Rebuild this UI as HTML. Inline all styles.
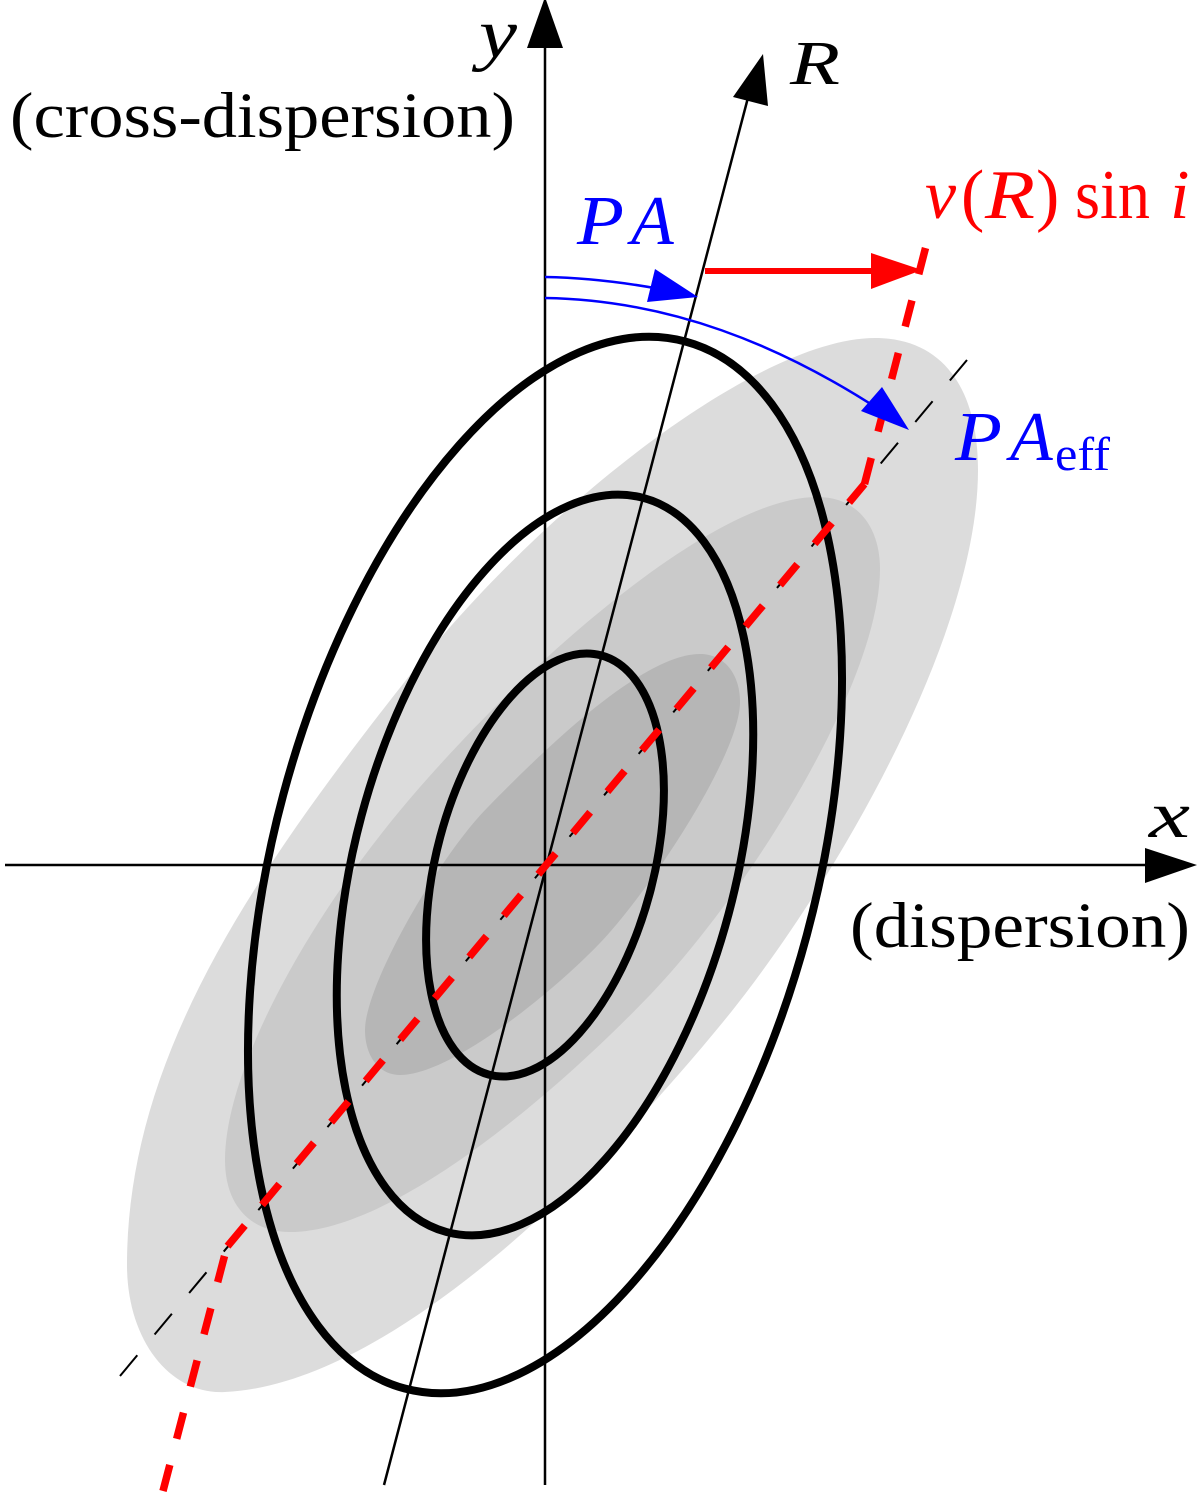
<!DOCTYPE html>
<html>
<head>
<meta charset="utf-8">
<style>
html,body{margin:0;padding:0;background:#fff;}
svg{display:block;}
text{font-family:"Liberation Serif",serif;}
.i{font-style:italic;}
</style>
</head>
<body>
<svg width="1200" height="1495" viewBox="0 0 1200 1495" xmlns="http://www.w3.org/2000/svg">
<path fill="#dcdcdc" d="M875 338C940 338 978 385 978 470C978 640 830 891 723 1022C578 1199 380 1385 225 1392C170 1395 127 1340 127 1265C127 1060 249 879 410 675C546 503 760 338 875 338Z"/>
<path fill="#cacaca" d="M817 497C860 497 880 530 880 569C880 680 753 887 650 995C546 1103 390 1232 290 1232C250 1232 225 1205 225 1160C225 1070 308 915 420 787C545 644.500 720 497 817 497Z"/>
<path fill="#b6b6b6" d="M700 654C725 654 740 675 740 702C740 755 648 893 600 943C550 995 450 1075 400 1075C378 1075 365 1055 365 1030C365 985 438 858 487 808C536 758 640 654 700 654Z"/>
<path d="M120 1376L967 360" stroke="#000" stroke-width="2" stroke-dasharray="27 27" fill="none"/>
<path d="M545 40V1485" stroke="#000" stroke-width="2.500" fill="none"/>
<path d="M5 865H1150" stroke="#000" stroke-width="2.500" fill="none"/>
<path d="M750 90L384 1485" stroke="#000" stroke-width="2.500" fill="none"/>
<g transform="translate(545 865) rotate(15)" fill="none" stroke="#000" stroke-width="8">
<ellipse rx="271" ry="542"/>
<ellipse rx="190" ry="380"/>
<ellipse rx="108.500" ry="217"/>
</g>
<path d="M925.500 248L864.500 484" stroke="#f00" stroke-width="7.500" stroke-dasharray="27 27.200" fill="none"/>
<path d="M864.500 484L226 1248" stroke="#f00" stroke-width="7.500" stroke-dasharray="27 26.850" stroke-dashoffset="3" fill="none"/>
<path d="M224.500 1256L163 1491" stroke="#f00" stroke-width="7.500" stroke-dasharray="27 27" fill="none"/>
<path d="M545 277Q600 278 660 289" stroke="#00f" stroke-width="2.500" fill="none"/>
<path d="M545 298C670 300 780 345 880 410" stroke="#00f" stroke-width="2.500" fill="none"/>
<path d="M705 271H880" stroke="#f00" stroke-width="6" fill="none"/>
<polygon points="545,-3 563,48 527,48" fill="#000"/>
<polygon points="1197,865 1145,848 1145,883" fill="#000"/>
<polygon points="763,54 768,106 733,97" fill="#000"/>
<polygon points="698,297 655,269 647,302" fill="#00f"/>
<polygon points="909,430 882,387 861,411" fill="#00f"/>
<polygon points="922,270 871,253 871,289" fill="#f00"/>
<text x="479" y="57" class="i" font-size="70" textLength="38" lengthAdjust="spacingAndGlyphs">y</text>
<text x="790" y="84" class="i" font-size="62" textLength="50" lengthAdjust="spacingAndGlyphs">R</text>
<text x="10" y="137" font-size="65" textLength="505" lengthAdjust="spacingAndGlyphs">(cross-dispersion)</text>
<g fill="#f00" font-size="70">
<text x="925" y="218" class="i">v</text>
<text x="961" y="218">(</text>
<text x="985" y="218" class="i" textLength="50" lengthAdjust="spacingAndGlyphs">R</text>
<text x="1036" y="218">)</text>
<text x="1075" y="218" textLength="75" lengthAdjust="spacingAndGlyphs">sin</text>
<text x="1170" y="218" class="i">i</text>
</g>
<g fill="#00f" font-size="70">
<text x="577" y="244" class="i" textLength="47" lengthAdjust="spacingAndGlyphs">P</text>
<text x="631" y="244" class="i">A</text>
<text x="955" y="460" class="i" textLength="47" lengthAdjust="spacingAndGlyphs">P</text>
<text x="1010" y="460" class="i">A</text>
</g>
<text x="1055" y="470" font-size="48" fill="#00f" textLength="55" lengthAdjust="spacingAndGlyphs">eff</text>
<text x="1149" y="837" class="i" font-size="66" textLength="41" lengthAdjust="spacingAndGlyphs">x</text>
<text x="850" y="947" font-size="65" textLength="340" lengthAdjust="spacingAndGlyphs">(dispersion)</text>
</svg>
</body>
</html>
